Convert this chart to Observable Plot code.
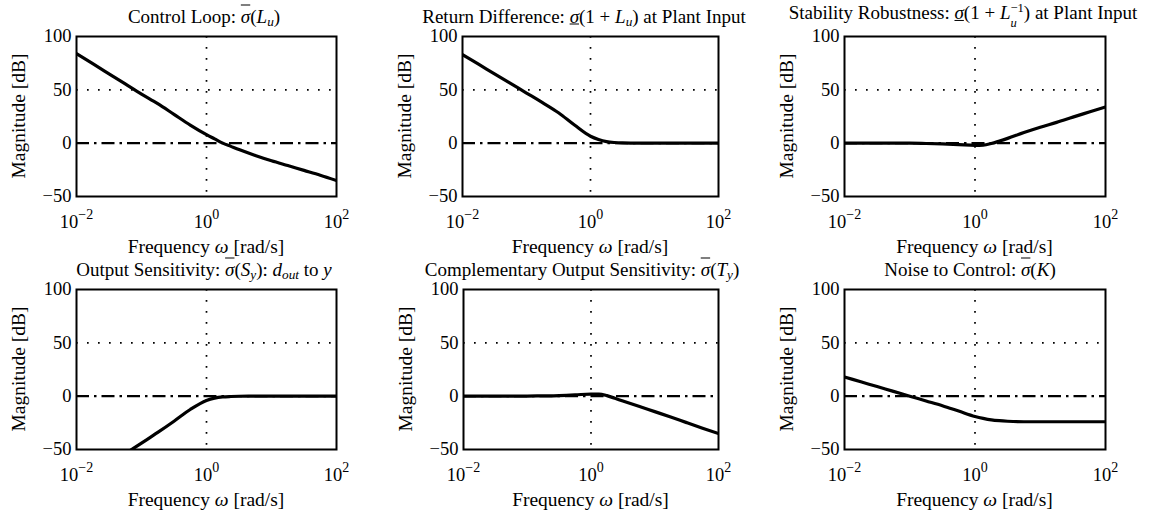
<!DOCTYPE html>
<html>
<head>
<meta charset="utf-8">
<script src="https://cdn.jsdelivr.net/npm/d3@7"></script>
<script src="https://cdn.jsdelivr.net/npm/@observablehq/plot@0.6"></script>
<style>
  html, body { margin: 0; padding: 0; background: #fff; }
  #root { position: relative; width: 1166px; height: 516px; overflow: hidden; background: #fff;
          font-family: "Liberation Serif", "DejaVu Serif", serif; color: #000; }
  .lbl { position: absolute; white-space: nowrap; font-size: 19.5px; line-height: 1; transform: translate(-50%, -50%); }
  .ttl { position: absolute; white-space: nowrap; font-size: 19px; line-height: 1; transform: translate(-50%, -50%); }
  .ylbl { position: absolute; white-space: nowrap; font-size: 19.5px; line-height: 1; transform: translate(-50%, -50%) rotate(-90deg); }
  .panel { position: absolute; }
  .ov { text-decoration: overline; }
  .un { text-decoration: underline; }
  sub { font-size: 0.7em; vertical-align: -0.3em; line-height: 0; }
  .ss { display: inline-block; vertical-align: -0.62em; font-size: 0.66em; line-height: 1.2; text-align: left; }
  .ss > span { display: block; }
</style>
</head>
<body>
<div id="root"></div>
<script>
// ---- data ----
const logOmega = [-2, -1.75, -1.5, -1.25, -1, -0.75, -0.5, -0.25, 0, 0.125, 0.25, 0.375, 0.5, 0.75, 1, 1.25, 1.5, 1.75, 2];
const controlLoop      = [84, 74.5, 65, 55.5, 46, 37, 27, 17, 8, 4, 0, -3, -6, -11.5, -16.5, -21, -25.5, -30, -35];
const returnDifference = [83, 74, 65, 56, 47, 38, 28.5, 17, 6.5, 3.5, 1.5, 0.6, 0.2, 0, 0, 0, 0, 0, 0];
const stabilityRobust  = [0, 0, 0, 0, 0, -0.3, -0.7, -1.3, -2, -1.8, -0.3, 2, 4.5, 10, 15, 19.5, 24.4, 29.2, 34];
const outputSens       = [-84, -74, -64, -54, -44, -34, -23.5, -12.5, -4, -1.8, -0.7, -0.3, -0.1, 0, 0, 0, 0, 0, 0];
const compOutputSens   = [0, 0, 0, 0, 0.1, 0.3, 0.6, 1.2, 2, 2, 0.5, -2, -4.5, -9.5, -14.5, -19.5, -24.8, -30, -35];
const noiseToControl   = [18, 13.5, 9, 4.5, 0, -4.5, -9, -14, -19, -20.8, -22.2, -23, -23.5, -24, -24, -24, -24, -24, -24];

const xTicks = [0.01, 1, 100];
const yTicks = [-50, 0, 50, 100];
const xDomain = [0.01, 100];
const yDomain = [-50, 100];

const titles = [
  'Control Loop: <span class="ov"><i>σ</i></span>(<i>L</i><sub><i>u</i></sub>)',
  'Return Difference: <span class="un"><i>σ</i></span>(1 + <i>L</i><sub><i>u</i></sub>) at Plant Input',
  'Stability Robustness: <span class="un"><i>σ</i></span>(1 + <i>L</i><span class="ss"><span>−1</span><span><i>u</i></span></span>) at Plant Input',
  'Output Sensitivity: <span class="ov"><i>σ</i></span>(<i>S</i><sub><i>y</i></sub>): <i>d</i><sub><i>out</i></sub> to <i>y</i>',
  'Complementary Output Sensitivity: <span class="ov"><i>σ</i></span>(<i>T</i><sub><i>y</i></sub>)',
  'Noise to Control: <span class="ov"><i>σ</i></span>(<i>K</i>)'
];
const series = [controlLoop, returnDifference, stabilityRobust, outputSens, compOutputSens, noiseToControl];
const xLabelHTML = 'Frequency <i>ω</i> [rad/s]';
const yLabelText = 'Magnitude [dB]';

// ---- layout ----
const frames = [
  {l: 76,  t: 36,  w: 260, tc: 204},
  {l: 462, t: 36,  w: 256, tc: 584},
  {l: 844, t: 36,  w: 261, tc: 963},
  {l: 76,  t: 289, w: 260, tc: 204},
  {l: 463, t: 289, w: 255, tc: 582},
  {l: 844, t: 289, w: 261, tc: 970}
];
const FH = 160;
const ML = 45, MR = 20, MT = 10, MB = 45;

const root = document.getElementById("root");

frames.forEach((f, i) => {
  const data = logOmega.map((e, k) => ({w: Math.pow(10, e), db: series[i][k]}));
  const chart = Plot.plot({
    width: f.w + ML + MR,
    height: FH + MT + MB,
    marginLeft: ML, marginRight: MR, marginTop: MT, marginBottom: MB,
    style: {fontFamily: '"Liberation Serif", serif', fontSize: "18.5px", color: "#000", background: "transparent", overflow: "visible"},
    x: {type: "log", domain: xDomain, ticks: xTicks, tickSize: 0, tickPadding: 18, label: null,
        tickFormat: d => "10^" + Math.round(Math.log10(d))},
    y: {domain: yDomain, ticks: yTicks, tickSize: 0, tickPadding: 5, label: null,
        tickFormat: d => d < 0 ? "−" + (-d) : String(d)},
    marks: [
      Plot.ruleX([1], {stroke: "#000", strokeWidth: 1.7, strokeDasharray: "1.7,9.3"}),
      Plot.ruleY([50], {stroke: "#000", strokeWidth: 1.7, strokeDasharray: "1.7,9.3"}),
      Plot.ruleY([0], {stroke: "#000", strokeWidth: 2.2, strokeDasharray: "13,5,2.5,5"}),
      Plot.line(data, {x: "w", y: "db", stroke: "#000", strokeWidth: 3.2, curve: "monotone-x", clip: true}),
      Plot.frame({stroke: "#000", strokeWidth: 2})
    ]
  });
  // superscript exponents on x tick labels
  chart.querySelectorAll('g[aria-label="x-axis tick label"] text').forEach(t => {
    const s = t.textContent;
    if (s.includes("^")) {
      const [base, ex] = s.split("^");
      t.textContent = base;
      const ts = document.createElementNS("http://www.w3.org/2000/svg", "tspan");
      ts.setAttribute("dy", "-0.62em");
      ts.setAttribute("font-size", "14");
      ts.textContent = ex.replace("-", "−");
      t.appendChild(ts);
    }
  });
  const wrap = document.createElement("div");
  wrap.className = "panel";
  wrap.style.left = (f.l - ML) + "px";
  wrap.style.top = (f.t - MT) + "px";
  wrap.appendChild(chart);
  root.appendChild(wrap);

  const title = document.createElement("div");
  title.className = "ttl";
  title.style.left = f.tc + "px";
  title.style.top = (f.t - 20) + "px";
  title.innerHTML = titles[i];
  root.appendChild(title);

  const xl = document.createElement("div");
  xl.className = "lbl";
  xl.style.left = (f.l + f.w / 2) + "px";
  xl.style.top = (f.t + FH + 51) + "px";
  xl.innerHTML = xLabelHTML;
  root.appendChild(xl);

  const yl = document.createElement("div");
  yl.className = "ylbl";
  yl.style.left = (f.l - 57) + "px";
  yl.style.top = (f.t + FH / 2) + "px";
  yl.textContent = yLabelText;
  root.appendChild(yl);
});
</script>
</body>
</html>
